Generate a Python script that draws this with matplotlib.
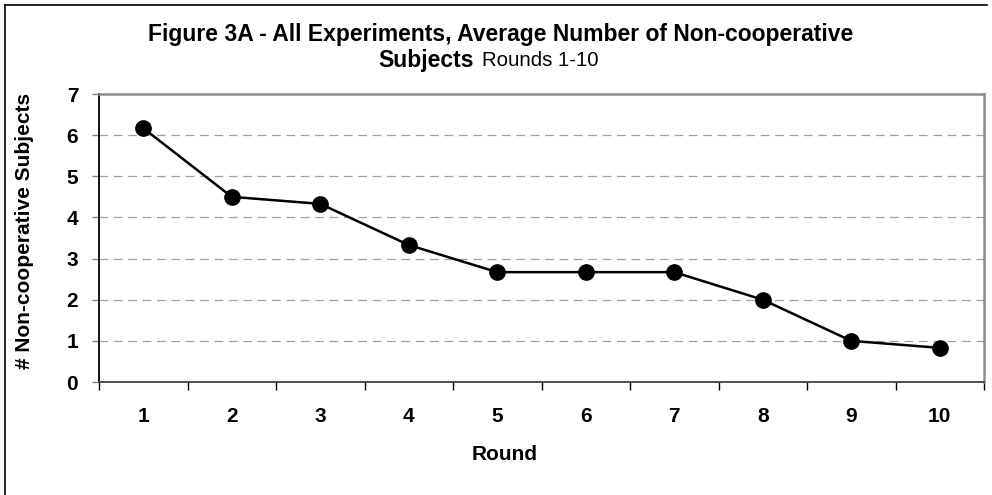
import numpy as np
import matplotlib
matplotlib.use("Agg")
import matplotlib.pyplot as plt
from matplotlib.lines import Line2D

plt.rcParams['font.family'] = ['Liberation Sans', 'DejaVu Sans']

rounds = [1, 2, 3, 4, 5, 6, 7, 8, 9, 10]
non_coop = [6.17, 4.5, 4.33, 3.33, 2.67, 2.67, 2.67, 2.0, 1.0, 0.83]
y_ticks = [0, 1, 2, 3, 4, 5, 6, 7]

W, H = 992, 495
fig = plt.figure(figsize=(W / 100, H / 100), dpi=100)
ax = fig.add_axes([99 / W, 1 - 382 / H, 885 / W, 288 / H])

# dashed grid, drawn under the series
for y in y_ticks[1:-1]:
    ax.axhline(y, color='#a0a0a0', lw=0.9, ls=(0, (7, 4.5)), zorder=1)

ax.plot(rounds, non_coop, color='black', lw=1.8, marker='o', ms=11,
        markerfacecolor='black', markeredgecolor='black', zorder=3,
        clip_on=False)

ax.set_xlim(0.5, 10.5)
ax.set_ylim(0, 7)

# category axis: ticks between categories, labels centred
ax.set_xticks(rounds)
ax.set_xticklabels([str(r) for r in rounds], fontsize=15, fontweight='bold')
ax.set_xticks(np.arange(0.5, 11, 1), minor=True)
ax.tick_params(axis='x', which='major', length=0, pad=18)
ax.tick_params(axis='x', which='minor', length=6, width=1, color='black',
               direction='out')

ax.set_yticks(y_ticks)
ax.set_yticklabels([str(v) for v in y_ticks], fontsize=15, fontweight='bold')
ax.tick_params(axis='y', length=5, width=1, color='#808080', direction='out',
               pad=10)

for side in ['top', 'right']:
    ax.spines[side].set_color('#8c8c8c')
    ax.spines[side].set_linewidth(1.8)
for side in ['left', 'bottom']:
    ax.spines[side].set_color('black')
    ax.spines[side].set_linewidth(1.3)
ax.spines['bottom'].set_color('#404040')

ax.set_xlabel('Round', fontsize=15, fontweight='bold')
ax.xaxis.set_label_coords((505 - 99) / 885, -(455 - 382) / 288)
ax.xaxis.label.set_va('center')
ax.set_ylabel('# Non-cooperative Subjects', fontsize=15, fontweight='bold')
ax.yaxis.set_label_coords(-(99 - 25) / 885, (382 - 231) / 288)
ax.yaxis.label.set_va('center')

fig.text(501 / W, 1 - 32 / H,
         'Figure 3A - All Experiments, Average Number of Non-cooperative',
         ha='center', va='center_baseline', fontsize=16.5, fontweight='bold')
fig.text(474 / W, 1 - 58 / H, 'Subjects', ha='right', va='center_baseline',
         fontsize=16.5, fontweight='bold')
fig.text(482 / W, 1 - 58 / H, 'Rounds 1-10', ha='left', va='center_baseline',
         fontsize=14.7)

# outer chart border (only top and left are inside the crop)
fig.add_artist(Line2D([5 / W, 5 / W], [0, 1 - 5 / H], color='black',
                      lw=1.2, transform=fig.transFigure))
fig.add_artist(Line2D([5 / W, 987 / W], [1 - 5 / H, 1 - 5 / H],
                      color='black', lw=1.2, transform=fig.transFigure))

fig.savefig('out.png', dpi=100)
